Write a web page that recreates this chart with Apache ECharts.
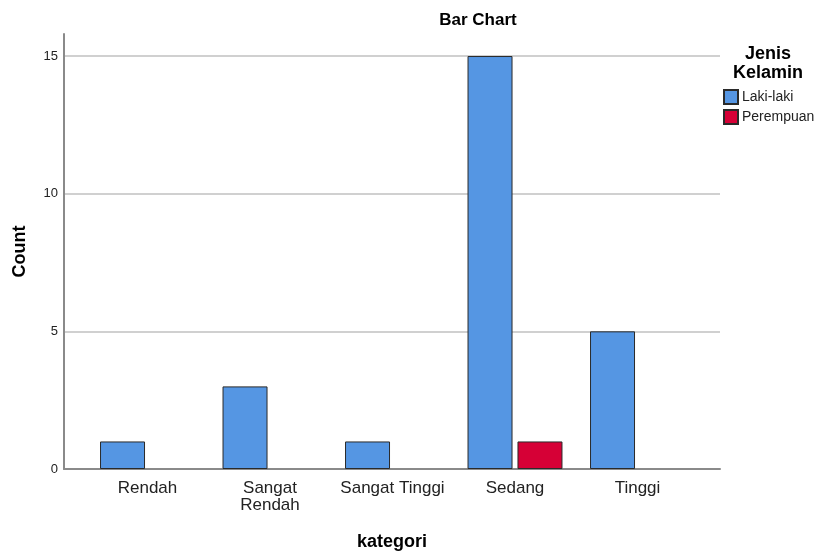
<!DOCTYPE html>
<html>
<head>
<meta charset="utf-8">
<script src="https://cdn.jsdelivr.net/npm/echarts@6/dist/echarts.min.js"></script>
<style>
  html, body { margin: 0; padding: 0; background: #fff; }
  #chart { width: 819px; height: 555px; }
</style>
</head>
<body>
<div id="chart"></div>
<script>
// data
var categories = ["Rendah", "Sangat\nRendah", "Sangat Tinggi", "Sedang", "Tinggi"];
var lakiLaki = [1, 3, 1, 15, 5];
var perempuan = [0, 0, 0, 1, 0];
var yTicks = [0, 5, 10, 15];

var font = "Arial, 'Liberation Sans', sans-serif";
var yMax = 15.8;

var chart = echarts.init(document.getElementById("chart"));

var option = {
  backgroundColor: "#fff",
  animation: false,
  textStyle: { fontFamily: font },
  title: [
    {
      text: "Bar Chart",
      left: 478,
      top: 12,
      padding: 0,
      textAlign: "center",
      textStyle: { fontSize: 17, fontWeight: "bold", color: "#000", fontFamily: font }
    },
    {
      text: "Jenis\nKelamin",
      left: 768,
      top: 45,
      padding: 0,
      textAlign: "center",
      textStyle: { fontSize: 18, fontWeight: "bold", color: "#000", lineHeight: 19, fontFamily: font }
    }
  ],
  legend: {
    orient: "vertical",
    left: 723,
    top: 89,
    padding: 0,
    itemWidth: 14,
    itemHeight: 14,
    itemGap: 4,
    icon: "rect",
    textStyle: { fontSize: 14, color: "#222", lineHeight: 14, padding: [0, 0, 0, -1] },
    data: ["Laki-laki", "Perempuan"]
  },
  grid: [
    // frame grid: axes and gridlines
    { left: 64, right: 99, top: 34, bottom: 86, outerBoundsMode: "none" },
    // bars grid (categories are inset from axis ends)
    { left: 86.25, right: 120.25, top: 34, bottom: 86, outerBoundsMode: "none" }
  ],
  xAxis: [
    {
      gridIndex: 0,
      type: "value",
      min: 0,
      max: 1,
      name: "kategori",
      nameLocation: "middle",
      nameGap: 64,
      nameTextStyle: { fontSize: 18, fontWeight: "bold", color: "#000" },
      axisLine: { show: true, lineStyle: { color: "#8a8a8a", width: 2 } },
      axisTick: { show: false },
      axisLabel: { show: false },
      splitLine: { show: false }
    },
    {
      gridIndex: 1,
      type: "category",
      data: categories,
      axisLine: { show: false },
      axisTick: { show: false },
      axisLabel: {
        fontSize: 17,
        color: "#222",
        margin: 11,
        lineHeight: 17,
        interval: 0
      }
    }
  ],
  yAxis: [
    {
      gridIndex: 0,
      type: "value",
      min: 0,
      max: yMax,
      interval: 5,
      name: "Count",
      nameLocation: "middle",
      nameGap: 35,
      nameTextStyle: { fontSize: 18, fontWeight: "bold", color: "#000" },
      axisLine: { show: true, lineStyle: { color: "#8a8a8a", width: 2 } },
      axisTick: { show: false },
      axisLabel: {
        fontSize: 13,
        color: "#222",
        margin: 6,
        formatter: function (v) { return yTicks.indexOf(v) >= 0 ? String(v) : ""; }
      },
      splitLine: { show: true, showMaxLine: false, lineStyle: { color: "#d0d0d0", width: 2 } }
    },
    {
      gridIndex: 1,
      type: "value",
      min: 0,
      max: yMax,
      show: false
    }
  ],
  series: [
    {
      name: "Laki-laki",
      type: "bar",
      xAxisIndex: 1,
      yAxisIndex: 1,
      data: lakiLaki,
      barWidth: 45,
      barGap: "11%",
      itemStyle: { color: "#5596e3", borderColor: "#2a2a2a", borderWidth: 1 }
    },
    {
      name: "Perempuan",
      type: "bar",
      xAxisIndex: 1,
      yAxisIndex: 1,
      data: perempuan.map(function (v) { return v === 0 ? null : v; }),
      barWidth: 45,
      itemStyle: { color: "#d60036", borderColor: "#2a2a2a", borderWidth: 1 }
    }
  ]
};

chart.setOption(option);
</script>
</body>
</html>
